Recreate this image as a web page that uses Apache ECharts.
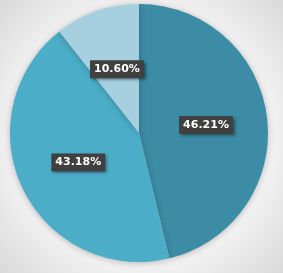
<!DOCTYPE html>
<html>
<head>
<meta charset="utf-8">
<script src="https://cdn.jsdelivr.net/npm/echarts@6/dist/echarts.min.js"></script>
<style>
  html, body { margin: 0; padding: 0; }
  #main { width: 283px; height: 273px; }
</style>
</head>
<body>
<div id="main"></div>
<script>
var categories = ['A', 'B', 'C'];
var values = [46.21, 43.18, 10.60];
var colors = ['#3c8ca6', '#4badc8', '#a6cfe0'];

var chart = echarts.init(document.getElementById('main'));
chart.setOption({
  backgroundColor: {
    type: 'radial', x: 0.5, y: 0.5, r: 0.75,
    colorStops: [{ offset: 0, color: '#ffffff' }, { offset: 0.6, color: '#f4f4f4' }, { offset: 1, color: '#d6d6d6' }]
  },
  animation: false,
  series: [{
    type: 'pie',
    center: [139, 133],
    radius: 129,
    startAngle: 90,
    clockwise: true,
    data: categories.map(function (c, i) {
      return { name: c, value: values[i], itemStyle: { color: colors[i] } };
    }),
    itemStyle: { shadowBlur: 6, shadowColor: 'rgba(0,0,0,0.25)', shadowOffsetY: 1 },
    label: {
      position: 'inside',
      formatter: function (p) { return p.value.toFixed(2) + '%'; },
      color: '#ffffff',
      fontWeight: 'bold',
      fontSize: 11,
      fontFamily: 'DejaVu Sans',
      backgroundColor: '#404040',
      padding: [4, 4, 3, 4],
      shadowBlur: 3,
      shadowColor: 'rgba(0,0,0,0.45)',
      shadowOffsetX: 2,
      shadowOffsetY: 2
    },
    labelLine: { show: false }
  }]
});
</script>
</body>
</html>
